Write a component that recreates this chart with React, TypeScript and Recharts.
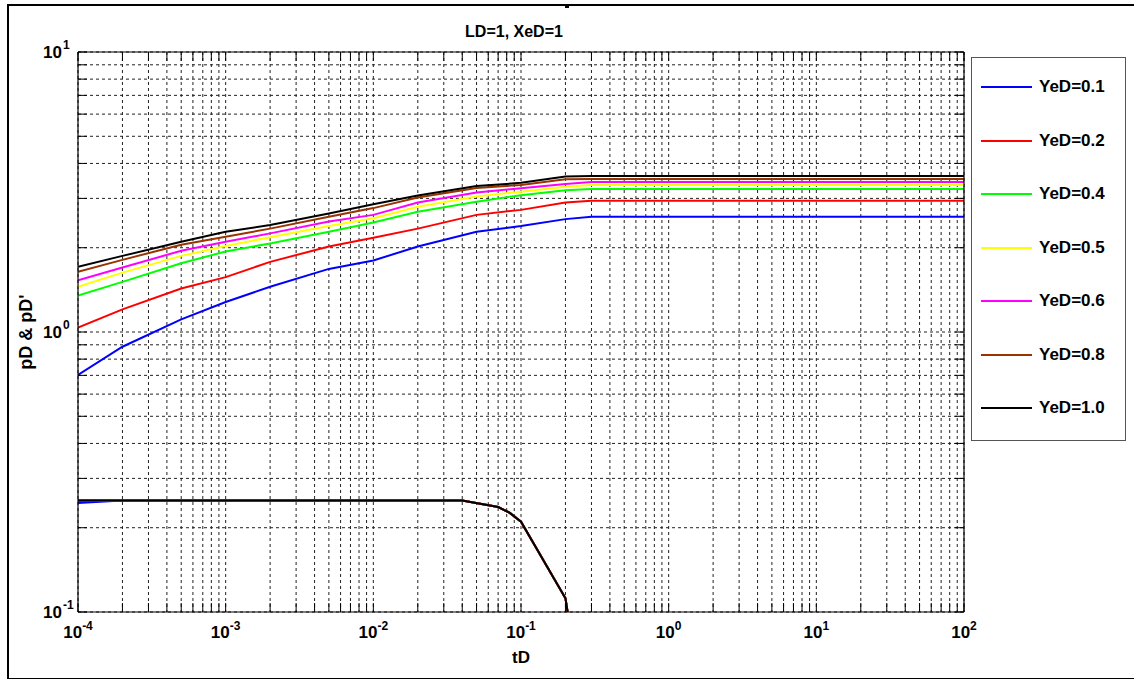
import React from 'react';
import { LineChart, Line, XAxis, YAxis, CartesianGrid, Legend } from 'recharts';

const W = 1134;
const H = 679;
const FONT = '"Liberation Sans", Arial, Helvetica, sans-serif';

// Dimensionless time samples for the pressure curves
const tD = [1e-4, 2e-4, 5e-4, 1e-3, 2e-3, 5e-3, 1e-2, 2e-2, 5e-2, 1e-1, 2e-1, 3e-1, 1, 10, 100];

// Dimensionless pressure pD for each YeD
const pD_01 = [0.702, 0.886, 1.11, 1.28, 1.45, 1.68, 1.8, 2.02, 2.28, 2.39, 2.53, 2.58, 2.58, 2.58, 2.58];
const pD_02 = [1.036, 1.205, 1.43, 1.57, 1.78, 2.02, 2.17, 2.34, 2.62, 2.73, 2.9, 2.94, 2.94, 2.94, 2.94];
const pD_04 = [1.35, 1.51, 1.76, 1.94, 2.07, 2.28, 2.46, 2.69, 2.92, 3.08, 3.21, 3.24, 3.24, 3.24, 3.24];
const pD_05 = [1.45, 1.63, 1.87, 2.03, 2.18, 2.39, 2.55, 2.8, 3.05, 3.17, 3.3, 3.35, 3.35, 3.35, 3.35];
const pD_06 = [1.53, 1.7, 1.95, 2.1, 2.25, 2.48, 2.62, 2.9, 3.15, 3.26, 3.38, 3.43, 3.43, 3.43, 3.43];
const pD_08 = [1.64, 1.81, 2.05, 2.19, 2.34, 2.58, 2.77, 3.02, 3.27, 3.35, 3.51, 3.52, 3.52, 3.52, 3.52];
const pD_10 = [1.71, 1.87, 2.1, 2.28, 2.41, 2.65, 2.86, 3.07, 3.32, 3.41, 3.59, 3.61, 3.61, 3.61, 3.61];

// Time samples and pressure derivative pD'
const tDeriv = [1e-4, 2e-4, 1e-3, 1e-2, 4e-2, 7e-2, 8.4e-2, 1e-1, 2e-1, 2.1e-1];
const dpD_01 = [0.245, 0.25, 0.25, 0.25, 0.25, 0.237, 0.226, 0.21, 0.112, 0.095];
const dpD_rest = [0.25, 0.25, 0.25, 0.25, 0.25, 0.237, 0.226, 0.21, 0.112, 0.095];

const seriesNames = ['YeD=0.1', 'YeD=0.2', 'YeD=0.4', 'YeD=0.5', 'YeD=0.6', 'YeD=0.8', 'YeD=1.0'];
const seriesColors = ['#0000FF', '#FF0000', '#00FF00', '#FFFF00', '#FF00FF', '#993300', '#000000'];
const pDSeries = [pD_01, pD_02, pD_04, pD_05, pD_06, pD_08, pD_10];
const dpDSeries = [dpD_01, dpD_rest, dpD_rest, dpD_rest, dpD_rest, dpD_rest, dpD_rest];

// Log-axis tick values (every integer multiple within each decade)
const xDecades = [1e-4, 1e-3, 1e-2, 1e-1, 1, 10];
const yDecades = [0.1, 1];
const multiples = [1, 2, 3, 4, 5, 6, 7, 8, 9];
const xTicks = [...xDecades.flatMap((d) => multiples.map((k) => k * d)), 100];
const yTicks = [...yDecades.flatMap((d) => multiples.map((k) => k * d)), 10];

const toRows = (xs: number[], ys: number[]) => xs.map((t, i) => ({ t, p: ys[i] }));

const exponentOf = (v: number) => Math.round(Math.log10(v));
const isMajor = (v: number) => Math.abs(Math.log10(v) - exponentOf(v)) < 1e-6;

const TICK_LEN = 9;

const BottomTick = (props: any) => {
  const { x, y, payload } = props;
  const v = payload.value;
  return (
    <g>
      <line x1={x} y1={y} x2={x} y2={y - TICK_LEN} stroke="#000" strokeWidth={1} />
      {isMajor(v) && (
        <text x={x} y={y + 26} textAnchor="middle" fontFamily={FONT} fontWeight="bold" fontSize={17} fill="#000">
          <tspan>10</tspan>
          <tspan dy={-8} fontSize={12}>{exponentOf(v)}</tspan>
        </text>
      )}
    </g>
  );
};

const TopTick = (props: any) => {
  const { x, y } = props;
  return <line x1={x} y1={y} x2={x} y2={y + TICK_LEN} stroke="#000" strokeWidth={1} />;
};

const LeftTick = (props: any) => {
  const { x, y, payload } = props;
  const v = payload.value;
  return (
    <g>
      <line x1={x} y1={y} x2={x + TICK_LEN} y2={y} stroke="#000" strokeWidth={1} />
      {isMajor(v) && (
        <g fontFamily={FONT} fontWeight="bold" fill="#000">
          <text x={x - 16} y={y + 6} textAnchor="end" fontSize={17}>10</text>
          <text x={x - 15} y={y - 3} textAnchor="start" fontSize={12}>{exponentOf(v)}</text>
        </g>
      )}
    </g>
  );
};

const RightTick = (props: any) => {
  const { x, y } = props;
  return <line x1={x} y1={y} x2={x - TICK_LEN} y2={y} stroke="#000" strokeWidth={1} />;
};

const YLabel = (props: any) => {
  const { viewBox } = props;
  const cx = viewBox.x + 32;
  const cy = viewBox.y + viewBox.height / 2;
  return (
    <text
      x={cx}
      y={cy}
      transform={`rotate(-90, ${cx}, ${cy})`}
      textAnchor="middle"
      fontFamily={FONT}
      fontWeight="bold"
      fontSize={18}
      fill="#000"
    >
      pD &amp; pD'
    </text>
  );
};

const XLabel = (props: any) => {
  const { viewBox } = props;
  return (
    <text
      x={viewBox.x + viewBox.width / 2}
      y={viewBox.y + 51}
      textAnchor="middle"
      fontFamily={FONT}
      fontWeight="bold"
      fontSize={17}
      fill="#000"
    >
      tD
    </text>
  );
};

const TitleLabel = (props: any) => {
  const { viewBox } = props;
  return (
    <text
      x={viewBox.x + viewBox.width / 2 - 7}
      y={viewBox.y - 14}
      textAnchor="middle"
      fontFamily={FONT}
      fontWeight="bold"
      fontSize={16}
      fill="#000"
    >
      LD=1, XeD=1
    </text>
  );
};

const renderLegend = (props: any) => {
  const items = ((props.payload || []) as any[]).filter(
    (e) => e.type !== 'none' && !String(e.value).includes("pD'")
  );
  return (
    <div style={{ position: 'relative', width: '100%', height: '100%' }}>
      {items.map((e, i) => (
        <div
          key={e.value}
          style={{
            position: 'absolute',
            left: 9,
            top: 19 + i * 53.5,
            height: 20,
            display: 'flex',
            alignItems: 'center',
            whiteSpace: 'nowrap',
          }}
        >
          <div style={{ width: 51, height: 2, background: e.color }} />
          <span
            style={{
              marginLeft: 7,
              fontFamily: FONT,
              fontWeight: 'bold',
              fontSize: 17,
              color: '#000',
            }}
          >
            {e.value}
          </span>
        </div>
      ))}
    </div>
  );
};

export default function App() {
  return (
    <div style={{ position: 'absolute', left: 0, top: 0, width: W, height: H, background: '#fff', overflow: 'hidden' }}>
      <div
        style={{
          position: 'absolute',
          left: 7,
          top: 4,
          width: 1140,
          height: 676,
          border: '2px solid #000',
          boxSizing: 'border-box',
        }}
      />
      <div style={{ position: 'absolute', left: 565, top: 5, width: 4, height: 3, background: '#000' }} />
      <LineChart width={W} height={H} margin={{ top: 51, right: 169, bottom: 17, left: 0 }}>
        <CartesianGrid xAxisId="b" yAxisId="l" stroke="#222" strokeWidth={1} strokeDasharray="3 3" />
        <XAxis
          xAxisId="b"
          dataKey="t"
          type="number"
          scale="log"
          domain={[1e-4, 100]}
          allowDataOverflow
          ticks={xTicks}
          interval={0}
          tickSize={0}
          tickMargin={0}
          tickLine={false}
          height={50}
          stroke="#000"
          axisLine={{ stroke: '#000', strokeWidth: 1.2 }}
          tick={(p: any) => <BottomTick {...p} />}
          label={<XLabel />}
        />
        <XAxis
          xAxisId="t"
          orientation="top"
          dataKey="t"
          type="number"
          scale="log"
          domain={[1e-4, 100]}
          allowDataOverflow
          ticks={xTicks}
          interval={0}
          tickSize={0}
          tickMargin={0}
          tickLine={false}
          height={1}
          axisLine={{ stroke: '#000', strokeWidth: 1.2 }}
          tick={(p: any) => <TopTick {...p} />}
          label={<TitleLabel />}
        />
        <YAxis
          yAxisId="l"
          type="number"
          scale="log"
          domain={[0.1, 10]}
          allowDataOverflow
          ticks={yTicks}
          interval={0}
          tickSize={0}
          tickMargin={0}
          tickLine={false}
          width={78}
          axisLine={{ stroke: '#000', strokeWidth: 1.2 }}
          tick={(p: any) => <LeftTick {...p} />}
          label={<YLabel />}
        />
        <YAxis
          yAxisId="r"
          orientation="right"
          type="number"
          scale="log"
          domain={[0.1, 10]}
          allowDataOverflow
          ticks={yTicks}
          interval={0}
          tickSize={0}
          tickMargin={0}
          tickLine={false}
          width={1}
          axisLine={{ stroke: '#000', strokeWidth: 1.2 }}
          tick={(p: any) => <RightTick {...p} />}
        />
        {seriesNames.map((name, i) => (
          <Line
            key={name}
            xAxisId="b"
            yAxisId="l"
            data={toRows(tD, pDSeries[i])}
            dataKey="p"
            name={name}
            type="linear"
            stroke={seriesColors[i]}
            strokeWidth={2}
            dot={false}
            isAnimationActive={false}
          />
        ))}
        {seriesNames.map((name, i) => (
          <Line
            key={name + '-deriv'}
            xAxisId="b"
            yAxisId="l"
            data={toRows(tDeriv, dpDSeries[i])}
            dataKey="p"
            name={name + " pD'"}
            type="linear"
            stroke={seriesColors[i]}
            strokeWidth={2}
            dot={false}
            legendType="none"
            isAnimationActive={false}
          />
        ))}
        <Legend
          layout="vertical"
          align="center"
          verticalAlign="middle"
          content={renderLegend}
          wrapperStyle={{
            position: 'absolute',
            left: 971,
            top: 57,
            width: 155,
            height: 384,
            border: '1px solid #555',
            background: '#fff',
            boxSizing: 'border-box',
          }}
        />
      </LineChart>
    </div>
  );
}
